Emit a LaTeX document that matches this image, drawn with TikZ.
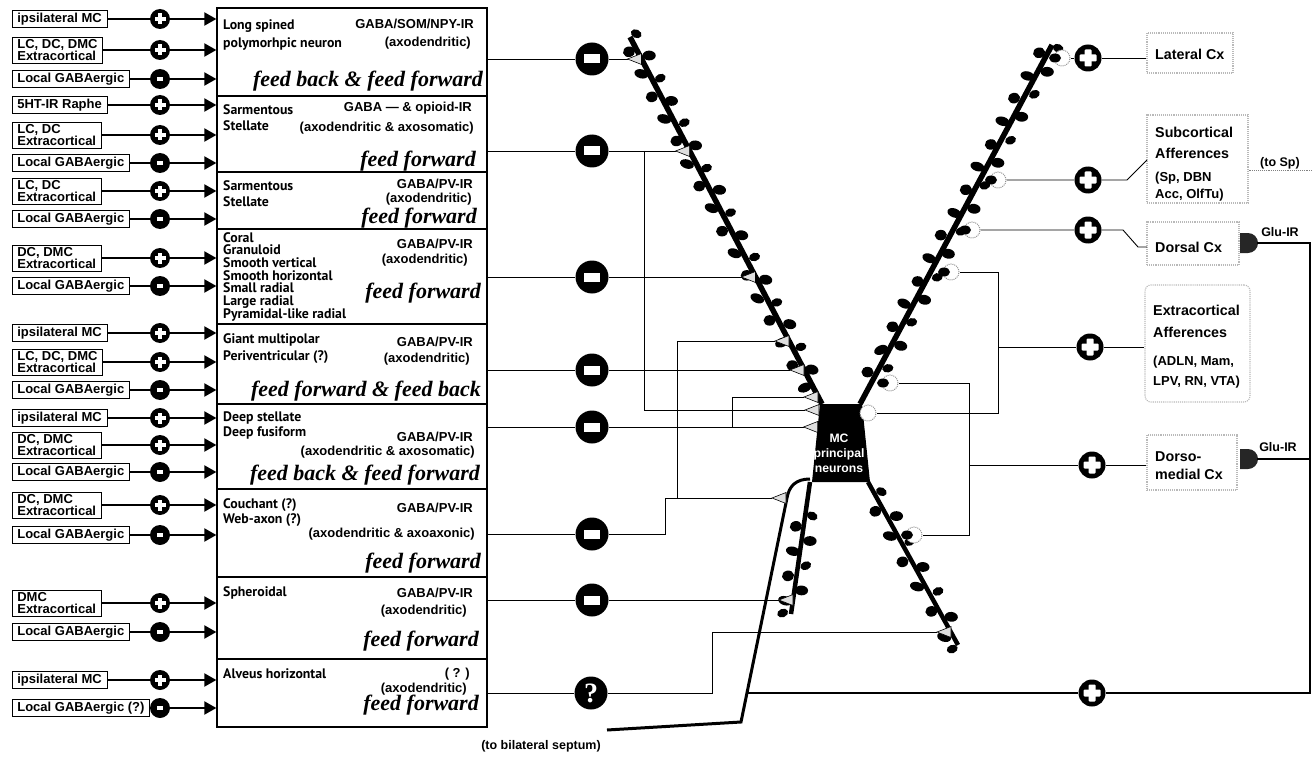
\documentclass[tikz,border=0pt]{standalone}
\usepackage{fontspec}
\setmainfont{Liberation Sans}
\newfontfamily\namefont{PT Sans}
\newfontfamily\feedfont{Liberation Serif}
\usetikzlibrary{arrows.meta,calc}

% spines along a dendrite: #1 start, #2 end, #3 last index, #4 first t, #5 t step
\newcommand\spinerow[5]{%
  \foreach \spI in {0,...,#3}{%
    \pgfmathsetmacro\spT{#4+\spI*#5}%
    \pgfmathsetmacro\spS{(mod(\spI,2)==0 ? 1 : -1)*(7+mod(\spI*7,3)*0.7)}%
    \pgfmathsetmacro\spX{5.6+mod(\spI*5,4)*0.5}%
    \pgfmathsetmacro\spY{4.2+mod(\spI*3,4)*0.35}%
    \pgfmathsetmacro\spR{mod(\spI*37,50)-25}%
    \fill ($(#1)!\spT!(#2)!\spS pt!90:(#2)$) ellipse [x radius=\spX pt, y radius=\spY pt, rotate=\spR];
  }}

% one afferent input row: #1 index, #2 y, #3 text, #4 sign style, #5 target box
\newcommand\inrow[5]{%
  \node[inbox] (in#1) at (12,#2) {#3};
  \node[#4] (sg#1) at (160,#2) {};
  \draw[feed] (in#1) -- (sg#1);
  \draw[feed,-{Triangle[length=12pt,width=13pt]}] (sg#1) -- (#5.west |- sg#1);
}

\begin{document}
\begin{tikzpicture}[x=1pt,y=-1pt,
  inbox/.style={draw, line width=0.7pt, anchor=west, align=left, inner xsep=5pt, inner ysep=2.5pt,
    font=\bfseries\fontsize{13}{12}\selectfont},
  cell/.style={draw, line width=1.3pt, minimum width=270pt, inner sep=0pt},
  namet/.style={anchor=base west, inner sep=0pt, font=\namefont\bfseries\fontsize{13.8}{13}\selectfont},
  irt/.style={anchor=base east, inner sep=0pt, font=\bfseries\fontsize{13}{13}\selectfont},
  fbt/.style={anchor=base east, inner sep=0pt, font=\feedfont\bfseries\itshape\fontsize{22}{22}\selectfont},
  areat/.style={anchor=base west, inner sep=0pt, font=\bfseries\fontsize{14.3}{14}\selectfont},
  aread/.style={anchor=base west, inner sep=0pt, font=\bfseries\fontsize{13}{13}\selectfont},
  smallt/.style={inner sep=0pt, font=\bfseries\fontsize{12.5}{12}\selectfont},
  feed/.style={line width=2pt},
  wire/.style={line width=0.9pt},
  coll/.style={line width=2pt},
  dend/.style={line width=5.5pt},
  ldend/.style={line width=4.5pt},
  syn/.style={draw=black, line width=0.6pt, fill=gray!25},
  bouton/.style={circle, draw=gray!85, densely dotted, line width=1pt, fill=white, minimum size=16pt, inner sep=0pt},
  areabox/.style={draw=gray!55, densely dotted, line width=1.1pt, inner sep=0pt},
  glu/.style={fill=black!85},
  plusS/.style={circle, fill=black, minimum size=20pt, inner sep=0pt, path picture={
    \fill[white] ([shift={(-5.5pt,-1.9pt)}]path picture bounding box.center) rectangle ([shift={(5.5pt,1.9pt)}]path picture bounding box.center);
    \fill[white] ([shift={(-1.9pt,-5.5pt)}]path picture bounding box.center) rectangle ([shift={(1.9pt,5.5pt)}]path picture bounding box.center);}},
  minusS/.style={circle, fill=black, minimum size=20pt, inner sep=0pt, path picture={
    \fill[white] ([shift={(-3pt,-2.2pt)}]path picture bounding box.center) rectangle ([shift={(3pt,2.2pt)}]path picture bounding box.center);}},
  minusL/.style={circle, fill=black, minimum size=33pt, inner sep=0pt, path picture={
    \fill[white] ([shift={(-8pt,-4.5pt)}]path picture bounding box.center) rectangle ([shift={(8pt,4.5pt)}]path picture bounding box.center);}},
  plusR/.style={circle, fill=black, minimum size=27pt, inner sep=0pt, path picture={
    \fill[white,rounded corners=1pt] ([shift={(-8.5pt,-3.5pt)}]path picture bounding box.center) rectangle ([shift={(8.5pt,3.5pt)}]path picture bounding box.center);
    \fill[white,rounded corners=1pt] ([shift={(-3.5pt,-8.5pt)}]path picture bounding box.center) rectangle ([shift={(3.5pt,8.5pt)}]path picture bounding box.center);}},
  qmark/.style={circle, fill=black, minimum size=33pt, inner sep=0pt, text=white,
    font=\feedfont\bfseries\fontsize{28}{28}\selectfont},
  mct/.style={align=center, text=white, inner sep=0pt, font=\bfseries\fontsize{12.2}{15}\selectfont}
]
\useasboundingbox (0,0) rectangle (1312,757);

% ---------------- interneuron boxes ----------------
\node[cell, minimum height=88pt] (b1) at (352,52) {};
\node[cell, minimum height=76pt] (b2) at (352,134) {};
\node[cell, minimum height=57pt] (b3) at (352,200.5) {};
\node[cell, minimum height=95pt] (b4) at (352,276.5) {};
\node[cell, minimum height=80pt] (b5) at (352,364) {};
\node[cell, minimum height=85pt] (b6) at (352,446.5) {};
\node[cell, minimum height=88pt] (b7) at (352,533) {};
\node[cell, minimum height=82pt] (b8) at (352,618) {};
\node[cell, minimum height=68pt] (b9) at (352,693) {};

\node[namet] (n1a) at (223,30) {Long spined};
\node[namet] (n1b) at (223,48) {polymorhpic neuron};
\node[irt] (r1a) at (474,29) {GABA/SOM/NPY-IR};
\node[irt] (r1b) at (471,47) {(axodendritic)};
\node[fbt] (f1) at (483,87) {feed back \& feed forward};

\node[namet] (n2a) at (223,115) {Sarmentous};
\node[namet] (n2b) at (223,131) {Stellate};
\node[irt] (r2a) at (472,112) {GABA — \& opioid-IR};
\node[irt] (r2b) at (474,132) {(axodendritic \& axosomatic)};
\node[fbt] (f2) at (476,167) {feed forward};

\node[namet] (n3a) at (223,190) {Sarmentous};
\node[namet] (n3b) at (223,206) {Stellate};
\node[irt] (r3a) at (473,188) {GABA/PV-IR};
\node[irt] (r3b) at (472,202) {(axodendritic)};
\node[fbt] (f3) at (477,223) {feed forward};

\foreach \t [count=\i] in {Coral,Granuloid,Smooth vertical,Smooth horizontal,Small radial,Large radial,Pyramidal-like radial}
  \node[namet] (n4\i) at (223,{242+(\i-1)*12.7}) {\t};
\node[irt] (r4a) at (473,248) {GABA/PV-IR};
\node[irt] (r4b) at (468,263) {(axodendritic)};
\node[fbt] (f4) at (481,298) {feed forward};

\node[namet] (n5a) at (223,343) {Giant multipolar};
\node[namet] (n5b) at (223,360) {Periventricular (?)};
\node[irt] (r5a) at (473,346) {GABA/PV-IR};
\node[irt] (r5b) at (470,362) {(axodendritic)};
\node[fbt] (f5) at (481,396) {feed forward \& feed back};

\node[namet] (n6a) at (223,421) {Deep stellate};
\node[namet] (n6b) at (223,436) {Deep fusiform};
\node[irt] (r6a) at (473,441) {GABA/PV-IR};
\node[irt] (r6b) at (475,455) {(axodendritic \& axosomatic)};
\node[fbt] (f6) at (480,480) {feed back \& feed forward};

\node[namet] (n7a) at (223,508) {Couchant (?)};
\node[namet] (n7b) at (223,523) {Web-axon (?)};
\node[irt] (r7a) at (473,512) {GABA/PV-IR};
\node[irt] (r7b) at (475,537) {(axodendritic \& axoaxonic)};
\node[fbt] (f7) at (481,568) {feed forward};

\node[namet] (n8a) at (223,596) {Spheroidal};
\node[irt] (r8a) at (473,597) {GABA/PV-IR};
\node[irt] (r8b) at (467,614) {(axodendritic)};
\node[fbt] (f8) at (479,646) {feed forward};

\node[namet] (n9a) at (223,678) {Alveus horizontal};
\node[irt] (r9a) at (470,677) {( ? )};
\node[irt] (r9b) at (467,692) {(axodendritic)};
\node[fbt] (f9) at (479,710) {feed forward};

% ---------------- afferent inputs ----------------
\inrow{1}{19}{ipsilateral MC}{plusS}{b1}
\inrow{2}{50}{LC, DC, DMC\\Extracortical}{plusS}{b1}
\inrow{3}{79}{Local GABAergic}{minusS}{b1}
\inrow{4}{105}{5HT-IR Raphe}{plusS}{b2}
\inrow{5}{135}{LC, DC\\Extracortical}{plusS}{b2}
\inrow{6}{163}{Local GABAergic}{minusS}{b2}
\inrow{7}{191}{LC, DC\\Extracortical}{plusS}{b3}
\inrow{8}{219}{Local GABAergic}{minusS}{b3}
\inrow{9}{258}{DC, DMC\\Extracortical}{plusS}{b4}
\inrow{10}{286}{Local GABAergic}{minusS}{b4}
\inrow{11}{333}{ipsilateral MC}{plusS}{b5}
\inrow{12}{362}{LC, DC, DMC\\Extracortical}{plusS}{b5}
\inrow{13}{390}{Local GABAergic}{minusS}{b5}
\inrow{14}{418}{ipsilateral MC}{plusS}{b6}
\inrow{15}{445}{DC, DMC\\Extracortical}{plusS}{b6}
\inrow{16}{472}{Local GABAergic}{minusS}{b6}
\inrow{17}{505}{DC, DMC\\Extracortical}{plusS}{b7}
\inrow{18}{535}{Local GABAergic}{minusS}{b7}
\inrow{19}{603}{DMC\\Extracortical}{plusS}{b8}
\inrow{20}{632}{Local GABAergic}{minusS}{b8}
\inrow{21}{680}{ipsilateral MC}{plusS}{b9}
\inrow{22}{708}{Local GABAergic (?)}{minusS}{b9}

% ---------------- inhibitory outputs ----------------
\node[minusL] (m1) at (592,59) {};
\node[minusL] (m2) at (592,151) {};
\node[minusL] (m4) at (592,277) {};
\node[minusL] (m5) at (592,370) {};
\node[minusL] (m6) at (592,427) {};
\node[minusL] (m7) at (592,534) {};
\node[minusL] (m8) at (592,600) {};
\node[qmark] (m9) at (591,693) {?};

% synapse sites (apex of the terminals)
\coordinate (ta1) at (627.5,59);
\coordinate (ta2) at (675.6,151);
\coordinate (ta4) at (741.5,277);
\coordinate (ta7d) at (775,341);
\coordinate (ta5) at (790,370);
\coordinate (ta6d) at (804,397);
\coordinate (ta2s) at (805,410);
\coordinate (ta6s) at (803.6,427);
\coordinate (ta7a) at (772,498);
\coordinate (ta8) at (779,600);
\coordinate (ta9) at (937,632);

\draw[wire] (b1.east |- m1) -- (m1) -- (ta1);
\draw[wire] (b2.east |- m2) -- (m2) -- (ta2);
\draw[wire] (644,151) |- (ta2s);
\draw[wire] (b4.east |- m4) -- (m4) -- (ta4);
\draw[wire] (b5.east |- m5) -- (m5) -- (ta5);
\draw[wire] (b6.east |- m6) -- (m6) -- (ta6s);
\draw[wire] (732,427) |- (ta6d);
\draw[wire] (b7.east |- m7) -- (m7) -- (665,534) |- (ta7a);
\draw[wire] (677,498) |- (ta7d);
\draw[wire] (b8.east |- m8) -- (m8) -- (ta8);
\draw[wire] (b9.east |- m9) -- (m9) -- (712,693) |- (ta9);

% ---------------- principal neuron ----------------
\coordinate (ulA) at (630,37);
\coordinate (ulB) at (822,404);
\coordinate (urA) at (1052,45);
\coordinate (urB) at (860,404);
\coordinate (llA) at (810,482);
\coordinate (llB) at (791,614);
\coordinate (lrA) at (868,482);
\coordinate (lrB) at (958,645);
\coordinate (sep) at (607,730);

\draw[dend] (ulA) -- (ulB);
\draw[dend] (urA) -- (urB);
\draw[ldend] (llA) -- (llB);
\draw[ldend] (lrA) -- (lrB);
\fill (820,404) -- (862,404) -- (870,482) -- (812,482) -- cycle;
\node[mct] (mc) at (839,453) {MC\\principal\\neurons};
\draw[line width=3pt] (810,479) .. controls (796,479) and (789,486) .. (787,498) -- (741,722) -- (sep);
\node[smallt] (septum) at (541,746) {(to bilateral septum)};

\spinerow{ulA}{ulB}{31}{0.0}{0.0305}
\spinerow{urA}{urB}{29}{0.0}{0.0318}
\spinerow{llA}{llB}{8}{0.25}{0.094}
\spinerow{lrA}{lrB}{12}{0.08}{0.077}

% inhibitory terminals
\foreach \c in {ta1,ta2,ta4,ta7d,ta5,ta6d,ta2s,ta6s,ta7a,ta8,ta9}
  \filldraw[syn] (\c) -- ++(14,-5.5) -- ++(0,11) -- cycle;

% ---------------- excitatory afferents ----------------
\node[bouton] (bo1) at (1062,58) {};
\node[bouton] (bo2) at (998,180) {};
\node[bouton] (bo3) at (972,230) {};
\node[bouton] (bo4) at (951,272) {};
\node[bouton] (bo5) at (890,383) {};
\node[bouton] (bo6) at (868,413) {};
\node[bouton] (bo7) at (914,535) {};
\foreach \b in {bo1,bo2,bo3,bo4,bo5,bo7}
  \fill ([xshift=-7pt]\b.center) ellipse [x radius=6pt, y radius=4.5pt];

\node[plusR] (p1) at (1088,58) {};
\node[plusR] (p2) at (1088,180) {};
\node[plusR] (p3) at (1088,230) {};
\node[plusR] (p4) at (1090,347) {};
\node[plusR] (p5) at (1092,465) {};
\node[plusR] (p6) at (1092,693) {};

\node[areabox, minimum width=86pt, minimum height=40pt] (lat) at (1190,53) {};
\node[areabox, minimum width=101pt, minimum height=88pt] (sub) at (1197.5,159) {};
\node[areabox, minimum width=92pt, minimum height=43pt] (dor) at (1193,243.5) {};
\node[areabox, rounded corners=6pt, minimum width=105pt, minimum height=117pt] (ext) at (1197.5,343.5) {};
\node[areabox, minimum width=90pt, minimum height=55pt] (dmc) at (1192,462.5) {};

\node[areat] (latt) at (1155,60) {Lateral Cx};
\node[areat] (subt1) at (1155,138) {Subcortical};
\node[areat] (subt2) at (1155,158) {Afferences};
\node[aread] (subt3) at (1155,182) {(Sp, DBN};
\node[aread] (subt4) at (1155,198) {Acc, OlfTu)};
\node[areat] (dort) at (1155,252) {Dorsal Cx};
\node[areat] (extt1) at (1153,315) {Extracortical};
\node[areat] (extt2) at (1153,337) {Afferences};
\node[aread] (extt3) at (1153,365) {(ADLN, Mam,};
\node[aread] (extt4) at (1153,385) {LPV, RN, VTA)};
\node[areat] (dmct1) at (1155,461) {Dorso-};
\node[areat] (dmct2) at (1155,479) {medial Cx};

\coordinate (k2a) at (1127,180);
\coordinate (k2b) at (1147,160);
\coordinate (k3a) at (1123,230);
\coordinate (k3b) at (1138,247);
\coordinate (k3c) at (1147,247);
\draw[wire] (bo1) -- (p1) -- (lat.west |- p1);
\draw[wire] (bo2) -- (p2) -- (k2a) -- (k2b);
\draw[wire] (bo3) -- (p3) -- (k3a) -- (k3b) -- (k3c);
\draw[wire] (bo4) -- (998,272) -- (998,413) -- (bo6);
\draw[wire] (998,347) -- (p4) -- (ext.west |- p4);
\draw[wire] (bo5) -- (969,383) -- (969,535) -- (bo7);
\draw[wire] (969,465) -- (p5) -- (dmc.west |- p5);

\node[smallt] (tosp) at (1280,163) {(to Sp)};
\coordinate (spend) at (1312,170);
\draw[wire, densely dotted, gray] (sub.east |- spend) -- (spend);

% ---------------- glutamatergic output ----------------
\fill[glu] (1240,233) -- (1248,233) arc[start angle=-90, end angle=90, radius=10] -- (1240,253) -- cycle;
\fill[glu] (1240,449) -- (1248,449) arc[start angle=-90, end angle=90, radius=10] -- (1240,469) -- cycle;
\coordinate (gl1) at (1257,243);
\coordinate (gl2) at (1257,459);
\node[smallt] (glu1) at (1280,232) {Glu-IR};
\node[smallt] (glu2) at (1278,447) {Glu-IR};
\draw[coll] (747,693) -- (p6) -- (1310,693) -- (1310,243) -- (gl1);
\draw[coll] (1310,459) -- (gl2);
\end{tikzpicture}
\end{document}
